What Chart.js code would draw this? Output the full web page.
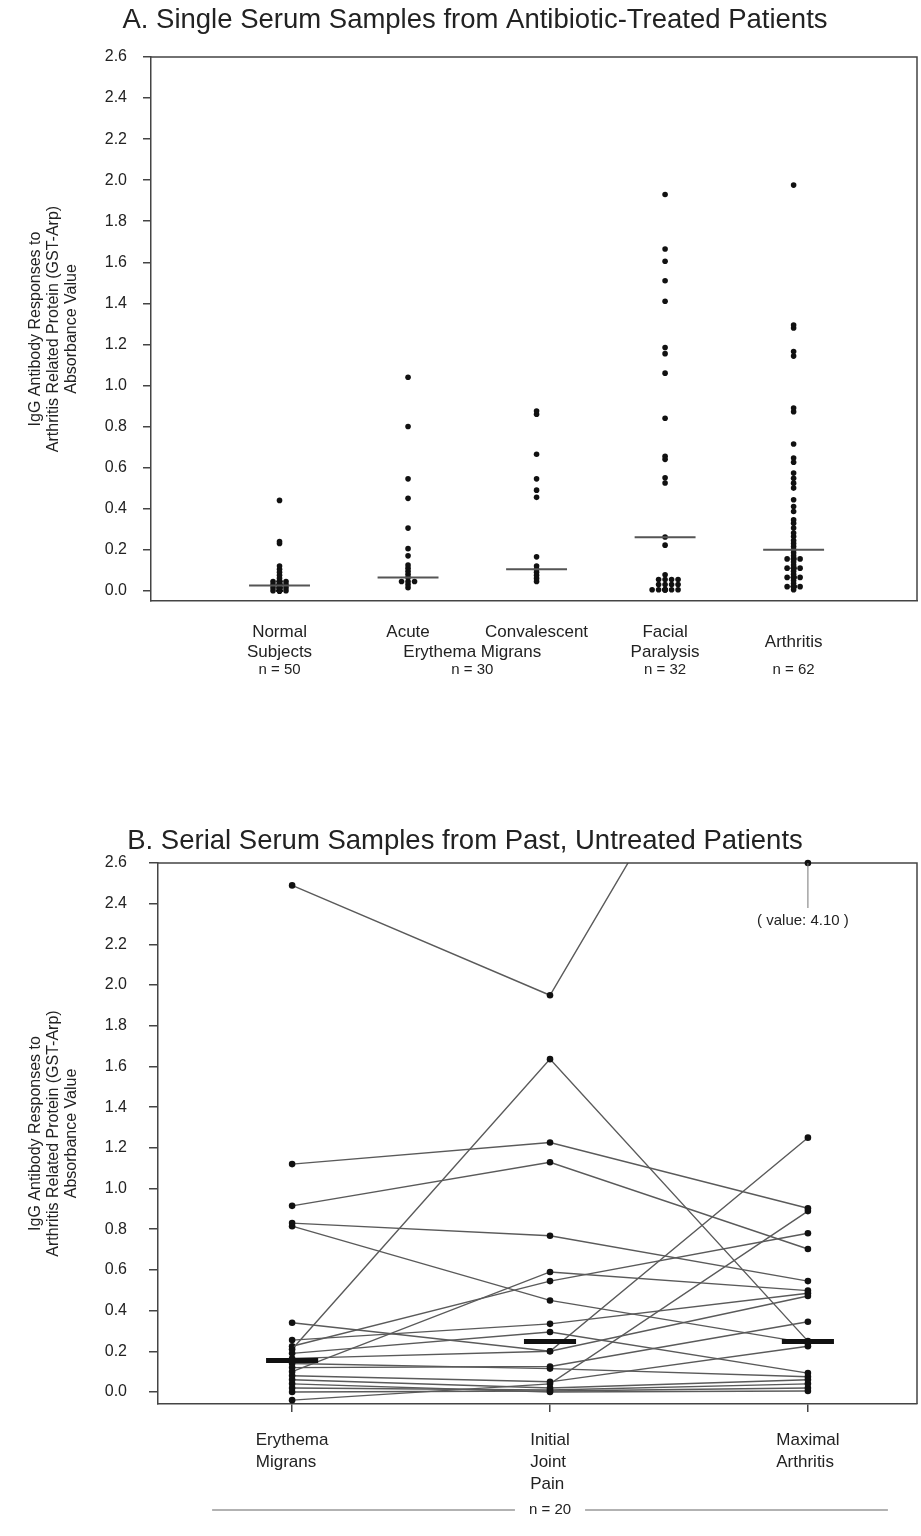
<!DOCTYPE html>
<html>
<head>
<meta charset="utf-8">
<script src="https://cdn.jsdelivr.net/npm/chart.js@4.4.0/dist/chart.umd.min.js"></script>
<style>
  body { margin: 0; background: #fff; }
  canvas { display: block; }
</style>
</head>
<body>
<canvas id="panelA" width="921" height="760"></canvas>
<canvas id="panelB" width="921" height="776"></canvas>
<script>
// ---------- Panel A: single serum samples ----------
const titleA = 'A. Single Serum Samples from Antibiotic-Treated Patients';
const categoryLinesA = [['Normal', 'Subjects'], ['Acute', ''], ['Convalescent', ''], ['Facial', 'Paralysis'], ['Arthritis']];
const sharedLabelA = 'Erythema Migrans';           // spans Acute + Convalescent
const countLabelsA = ['n = 50', 'n = 30', 'n = 32', 'n = 62'];
const yTicks = [0, 0.2, 0.4, 0.6, 0.8, 1.0, 1.2, 1.4, 1.6, 1.8, 2.0, 2.2, 2.4, 2.6];
const yTitle = ['IgG Antibody Responses to', 'Arthritis Related Protein (GST-Arp)', 'Absorbance Value'];

const normalSubjects = [0.44, 0.24, 0.23, 0.12, 0.105, 0.09, 0.075, 0.06,
  0.045, 0.045, 0.045, 0.045, 0.045, 0.045, 0.045, 0.045,
  0.03, 0.03, 0.03, 0.03, 0.03, 0.03, 0.03, 0.03, 0.03, 0.03,
  0.015, 0.015, 0.015, 0.015, 0.015, 0.015, 0.015, 0.015, 0.015, 0.015,
  0, 0, 0, 0, 0, 0, 0, 0, 0, 0, 0, 0, 0, 0];
const acuteEM = [1.04, 0.80, 0.545, 0.45, 0.305, 0.205, 0.17, 0.125, 0.11, 0.095, 0.08, 0.065,
  0.045, 0.045, 0.045, 0.03, 0.015];
const convalescentEM = [0.875, 0.86, 0.665, 0.545, 0.49, 0.455, 0.165, 0.12, 0.105, 0.09, 0.075, 0.06, 0.045];
const facialParalysis = [1.93, 1.665, 1.605, 1.51, 1.41, 1.185, 1.155, 1.06, 0.84, 0.655, 0.64, 0.55, 0.525,
  0.262, 0.222, 0.078, 0.055, 0.055, 0.055, 0.03, 0.03, 0.03,
  0.005, 0.005, 0.005, 0.005, 0.005, 0.005, 0.005, 0.03, 0.055, 0.005];
const arthritis = [1.976, 1.294, 1.28, 1.165, 1.143, 0.89, 0.872, 0.715, 0.646, 0.626, 0.573, 0.548, 0.524,
  0.50, 0.443, 0.41, 0.386, 0.345, 0.329, 0.305, 0.281, 0.264, 0.245, 0.23, 0.215,
  0.2, 0.185, 0.17, 0.155, 0.14, 0.125, 0.11, 0.095, 0.08, 0.065, 0.05, 0.035, 0.02, 0.005,
  0.155, 0.155, 0.11, 0.11, 0.065, 0.065, 0.02, 0.02,
  0.155, 0.11, 0.11, 0.065, 0.065, 0.065, 0.02, 0.02, 0.02, 0.02, 0.155, 0.11, 0.065, 0.02, 0.02];
const groupValuesA = [normalSubjects, acuteEM, convalescentEM, facialParalysis, arthritis];
const mediansA = [0.025, 0.065, 0.105, 0.26, 0.20];

// ---------- Panel B: serial serum samples ----------
const titleB = 'B. Serial Serum Samples from Past, Untreated Patients';
const categoryLinesB = [['Erythema', 'Migrans'], ['Initial', 'Joint', 'Pain'], ['Maximal', 'Arthritis']];
const countLabelB = 'n = 20';
// one entry per patient, same order in the three arrays
const erythemaMigrans = [2.49, 1.12, 0.915, 0.83, 0.815, 0.21, 0.34, 0.10, 0.225, 0.255,
  0.19, 0.165, 0.12, 0.14, 0.08, -0.04, 0.06, 0.02, 0.0, 0.04];
const initialJointPain = [1.95, 1.226, 1.129, 0.768, 0.45, 1.636, 0.2, 0.59, 0.545, 0.335,
  0.295, 0.2, 0.125, 0.115, 0.05, 0.04, 0.02, 0.01, 0.005, 0.0];
const maximalArthritis = [4.10, 0.903, 0.703, 0.545, 0.24, 0.25, 0.472, 0.498, 0.78, 0.485,
  0.093, 1.25, 0.345, 0.075, 0.225, 0.889, 0.06, 0.04, 0.02, 0.005];
const mediansB = [0.155, 0.248, 0.248];

// ---------- layout / style ----------
const FONT = '"Liberation Sans", Arial, sans-serif';
Chart.defaults.font.family = FONT;
Chart.defaults.color = '#222';
const AXIS = '#444';
const A_X = { min: 0, max: 5.96, left: 151, right: 918 };
const A_Y = { min: -0.05, max: 2.6, top: 57, bottom: 601 };
const PX_X_A = (A_X.right - A_X.left) / (A_X.max - A_X.min);
const PX_Y_A = (A_Y.bottom - A_Y.top) / (A_Y.max - A_Y.min);
const DOT_STEP = 6.5;   // horizontal spacing of side-by-side dots (px)
const MIN_DIST = 1.5;   // dots closer than this get pushed sideways (px)
const SPREAD = [1, 1, 1, 2, 1];

// simple capped beeswarm: nearly equal values go side by side, extras overlap
function swarm(values, center, kMax) {
  const placed = [];
  const slots = [0, 1, -1, 2, -2].filter(k => Math.abs(k) <= kMax);
  return values.slice().sort((a, b) => a - b).map(v => {
    const py = v * PX_Y_A;
    let k = 0;
    for (const c of slots) {
      const hit = placed.some(p => Math.hypot((p.k - c) * DOT_STEP, p.py - py) < MIN_DIST);
      if (!hit) { k = c; break; }
    }
    placed.push({ k, py });
    return { x: center + k * DOT_STEP / PX_X_A, y: v };
  });
}

const dotsA = groupValuesA.flatMap((vals, i) => swarm(vals, i + 1, SPREAD[i]));
const medianHalfA = 30.5 / PX_X_A;
const medianSegA = mediansA.flatMap((m, i) => [
  { x: i + 1 - medianHalfA, y: m }, { x: i + 1 + medianHalfA, y: m }, { x: i + 1, y: null }]);

const frame = {
  id: 'frame',
  afterDatasetsDraw(chart) {
    const { ctx, chartArea: a } = chart;
    ctx.save();
    ctx.strokeStyle = AXIS;
    ctx.lineWidth = 1.5;
    ctx.beginPath();
    ctx.moveTo(a.left, a.top);
    ctx.lineTo(a.right, a.top);
    ctx.lineTo(a.right, a.bottom);
    ctx.stroke();
    ctx.restore();
  }
};

// panel heading, placed like the original figure
function heading(text, cx, cy) {
  return {
    id: 'heading',
    afterDraw(chart) {
      const ctx = chart.ctx;
      ctx.save();
      ctx.fillStyle = '#222';
      ctx.font = '27.5px ' + FONT;
      ctx.textAlign = 'center';
      ctx.textBaseline = 'middle';
      ctx.fillText(text, cx, cy);
      ctx.restore();
    }
  };
}

const labelsA = {
  id: 'labelsA',
  afterDraw(chart) {
    const { ctx, scales: { x } } = chart;
    const mid = x.top + 41, lh = 20, nRow = x.top + 69;
    ctx.save();
    ctx.fillStyle = '#222';
    ctx.textAlign = 'center';
    ctx.textBaseline = 'middle';
    ctx.font = '17px ' + FONT;
    categoryLinesA.forEach((lines, i) => {
      const cx = x.getPixelForValue(i + 1);
      const y0 = mid - (lines.length - 1) * lh / 2;
      lines.forEach((t, j) => ctx.fillText(t, cx, y0 + j * lh));
    });
    const emX = (x.getPixelForValue(2) + x.getPixelForValue(3)) / 2;
    ctx.fillText(sharedLabelA, emX, mid + lh / 2);
    ctx.font = '15px ' + FONT;
    const nX = [x.getPixelForValue(1), emX, x.getPixelForValue(4), x.getPixelForValue(5)];
    countLabelsA.forEach((t, i) => ctx.fillText(t, nX[i], nRow));
    ctx.restore();
  }
};

function yScale(min, width, tickLen, pad) {
  return {
    min: min, max: 2.6,
    afterBuildTicks: s => { s.ticks = yTicks.map(v => ({ value: v })); },
    ticks: { callback: v => v.toFixed(1), font: { size: 16 }, color: '#222', padding: pad },
    grid: { drawOnChartArea: false, tickLength: tickLen, color: AXIS, lineWidth: 1.5 },
    border: { color: AXIS, width: 1.5 },
    title: { display: true, text: yTitle, font: { size: 16, lineHeight: 1.15 }, color: '#222', padding: { top: 26 } },
    afterFit: s => { s.width = width; }
  };
}

new Chart(document.getElementById('panelA'), {
  type: 'scatter',
  data: {
    datasets: [
      { type: 'line', data: medianSegA, borderColor: '#555', borderWidth: 2, pointRadius: 0, spanGaps: false },
      { data: dotsA, pointRadius: 2.8, backgroundColor: '#111', borderWidth: 0 }
    ]
  },
  options: {
    responsive: false,
    animation: false,
    layout: { padding: { top: A_Y.top, right: 921 - A_X.right } },
    plugins: {
      legend: { display: false },
      tooltip: { enabled: false },
      title: { display: false }
    },
    scales: {
      x: {
        type: 'linear', min: A_X.min, max: A_X.max,
        grid: { display: false },
        border: { color: AXIS, width: 1.5 },
        ticks: { display: false },
        afterFit: s => { s.height = 760 - A_Y.bottom; }
      },
      y: yScale(A_Y.min, A_X.left, 8, 16)
    }
  },
  plugins: [frame, labelsA, heading(titleA, 475, 20)]
});

// ---------- Panel B chart ----------
const B_X = { min: 0.48, max: 3.423 };
const B_Y_MAX = 2.6;
const medianHalfB = 0.101;
const medianSegB = mediansB.flatMap((m, i) => [
  { x: i + 1 - medianHalfB, y: m }, { x: i + 1 + medianHalfB, y: m }, { x: i + 1, y: null }]);

const patientSets = erythemaMigrans.map((em, i) => ({
  type: 'line',
  data: [{ x: 1, y: em }, { x: 2, y: initialJointPain[i] }, { x: 3, y: maximalArthritis[i] }],
  borderColor: '#5a5a5a', borderWidth: 1.4,
  pointRadius: 3.3, pointBackgroundColor: '#111', pointBorderWidth: 0
}));

const offscale = {
  id: 'offscale',
  afterDatasetsDraw(chart) {
    const { ctx, scales: { x, y } } = chart;
    const cols = [erythemaMigrans, initialJointPain, maximalArthritis];
    ctx.save();
    cols.forEach((vals, c) => vals.forEach(v => {
      if (v <= B_Y_MAX) return;
      const px = x.getPixelForValue(c + 1), py = y.getPixelForValue(B_Y_MAX);
      ctx.fillStyle = '#111';
      ctx.beginPath(); ctx.arc(px, py, 3.3, 0, Math.PI * 2); ctx.fill();
      ctx.strokeStyle = '#777'; ctx.lineWidth = 1;
      ctx.beginPath(); ctx.moveTo(px, py); ctx.lineTo(px, py + 45); ctx.stroke();
      ctx.fillStyle = '#222';
      ctx.font = '15px ' + FONT;
      ctx.textAlign = 'center'; ctx.textBaseline = 'middle';
      ctx.fillText('( value: ' + v.toFixed(2) + ' )', px - 5, py + 58);
    }));
    ctx.restore();
  }
};

const labelsB = {
  id: 'labelsB',
  afterDraw(chart) {
    const { ctx, scales: { x } } = chart;
    const row0 = x.top + 36, lh = 22, nRow = x.top + 106;
    ctx.save();
    ctx.fillStyle = '#222';
    ctx.textBaseline = 'middle';
    ctx.font = '17px ' + FONT;
    ctx.textAlign = 'left';
    categoryLinesB.forEach((lines, i) => {
      const cx = x.getPixelForValue(i + 1);
      const w = Math.max(...lines.map(t => ctx.measureText(t).width));
      lines.forEach((t, j) => ctx.fillText(t, cx - w / 2, row0 + j * lh));
    });
    ctx.font = '15px ' + FONT;
    ctx.textAlign = 'center';
    const cx = x.getPixelForValue(2);
    const half = ctx.measureText(countLabelB).width / 2 + 14;
    ctx.fillText(countLabelB, cx, nRow);
    ctx.strokeStyle = '#666'; ctx.lineWidth = 1.2;
    ctx.beginPath();
    ctx.moveTo(x.getPixelForValue(1) - 80, nRow); ctx.lineTo(cx - half, nRow);
    ctx.moveTo(cx + half, nRow); ctx.lineTo(x.getPixelForValue(3) + 80, nRow);
    ctx.stroke();
    ctx.restore();
  }
};

new Chart(document.getElementById('panelB'), {
  type: 'scatter',
  data: {
    datasets: [
      { type: 'line', data: medianSegB, borderColor: '#111', borderWidth: 5, pointRadius: 0, spanGaps: false },
      ...patientSets
    ]
  },
  options: {
    responsive: false,
    animation: false,
    layout: { padding: { top: 103, right: 3 } },
    plugins: {
      legend: { display: false },
      tooltip: { enabled: false },
      title: { display: false }
    },
    scales: {
      x: {
        type: 'linear', min: B_X.min, max: B_X.max,
        afterBuildTicks: s => { s.ticks = [1, 2, 3].map(v => ({ value: v })); },
        grid: { drawOnChartArea: false, tickLength: 8, color: AXIS, lineWidth: 1.5 },
        border: { color: AXIS, width: 1.5 },
        ticks: { display: false },
        afterFit: s => { s.height = 132; }
      },
      y: yScale(-0.059, 158, 9, 22)
    }
  },
  plugins: [frame, offscale, labelsB, heading(titleB, 465, 81)]
});
</script>
</body>
</html>
